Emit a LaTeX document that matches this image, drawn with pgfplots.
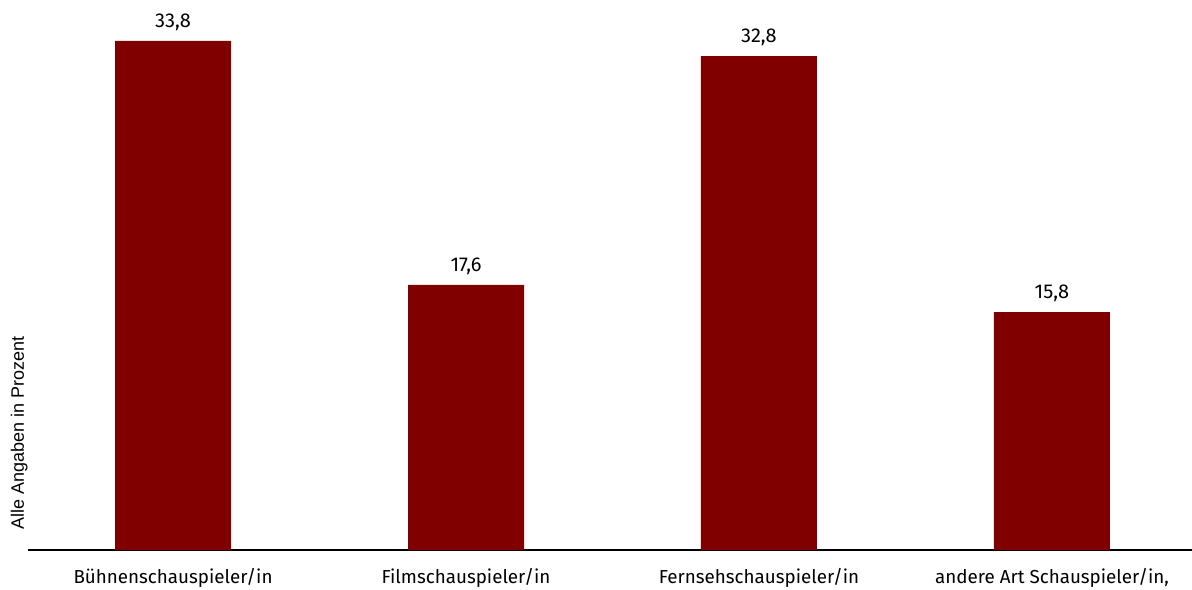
\documentclass[border=0pt]{standalone}
\usepackage{pgfplots}
\pgfplotsset{compat=1.18}
\usepackage{fontspec}
\setmainfont{Fira Sans}
\newfontfamily\arialfont{Liberation Sans}
\definecolor{barred}{HTML}{800000}
\begin{document}
\begin{tikzpicture}
\begin{axis}[
  scale only axis,
  width=582pt, height=275pt,
  xmin=-0.495, xmax=3.478,
  ymin=0, ymax=36.52,
  axis x line=bottom,
  axis y line=none,
  axis line style={-, line width=0.8pt, black},
  xtick=data,
  xticklabels={Bühnenschauspieler/in, Filmschauspieler/in, Fernsehschauspieler/in, {andere Art Schauspieler/in,}},
  xtick style={draw=none},
  major tick length=0pt,
  xticklabel style={font=\fontsize{9.4}{11}\selectfont, yshift=-5.5pt},
  ybar, bar width=58pt,
  clip=false,
  nodes near coords,
  /pgf/number format/.cd, use comma, fixed, fixed zerofill, precision=1, assume math mode=true,
  /pgfplots/every node near coord/.append style={font=\fontsize{10}{12}\selectfont, yshift=1.5pt},
]
\addplot[fill=barred, draw=none] coordinates {(0,33.8) (1,17.6) (2,32.8) (3,15.8)};
\node[rotate=90, anchor=base west, inner sep=0pt, font=\arialfont\fontsize{9}{10}\selectfont] at (axis cs:-0.509,1.33) {Alle Angaben in Prozent};
\end{axis}
\pgfresetboundingbox
\useasboundingbox ([shift={(-14pt,-19.5pt)}]current axis.south west) rectangle (current axis.north east);
\end{tikzpicture}
\end{document}
